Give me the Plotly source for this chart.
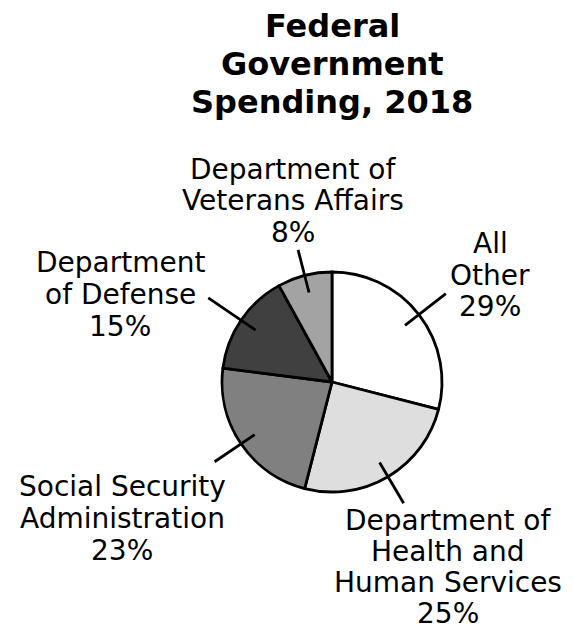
import math
import plotly.graph_objects as go

# ---- data ----
categories = ["All Other", "Department of Health and Human Services",
              "Social Security Administration", "Department of Defense",
              "Department of Veterans Affairs"]
label_lines = [["All", "Other"],
               ["Department of", "Health and", "Human Services"],
               ["Social Security", "Administration"],
               ["Department", "of Defense"],
               ["Department of", "Veterans Affairs"]]
shares = [29, 25, 23, 15, 8]
title_lines = ["Federal", "Government", "Spending, 2018"]

# ---- styles ----
colors = ["#ffffff", "#dedede", "#808080", "#404040", "#a3a3a3"]
W, H = 573, 632
CX, CY, R = 332, 382, 110            # pie centre / radius in pixels
leader_in = [0.84, 0.85, 0.85, 0.84, 0.84]
leader_out = [1.31, 1.28, 1.29, 1.36, 1.24]
label_px = [(490, 275), (448, 567), (122, 518), (120, 294), (293, 201)]
label_gap = [32, 31, 32, 32, 32]
LABEL_SIZE = 28
TITLE_SIZE, TITLE_GAP, TITLE_X, TITLE_Y0 = 32, 38, 332, 26
FONT = "DejaVu Sans, Verdana, sans-serif"


def px(x):
    return x / W


def py(y):
    return 1 - y / H


fig = go.Figure(go.Pie(
    labels=categories, values=shares, sort=False, direction="clockwise",
    rotation=0, textinfo="none", hoverinfo="label+percent",
    marker=dict(colors=colors, line=dict(color="black", width=2.8)),
    domain=dict(x=[px(CX - R), px(CX + R)], y=[py(CY + R), py(CY - R)]),
    showlegend=False,
))

total = sum(shares)
cum = 0
shapes = []
annotations = []


def add_line(text, x, y, size, bold=False):
    annotations.append(dict(
        text=f"<b>{text}</b>" if bold else text, x=px(x), y=py(y),
        xref="paper", yref="paper", xanchor="center", yanchor="middle",
        showarrow=False, align="center", borderpad=0,
        font=dict(family=FONT, size=size, color="black")))


for i, v in enumerate(shares):
    mid = (cum + v / 2) / total * 2 * math.pi
    cum += v
    sx, sy = math.sin(mid), -math.cos(mid)
    x0, y0 = CX + R * leader_in[i] * sx, CY + R * leader_in[i] * sy
    x1, y1 = CX + R * leader_out[i] * sx, CY + R * leader_out[i] * sy
    shapes.append(dict(type="line", xref="paper", yref="paper",
                       x0=px(x0), y0=py(y0), x1=px(x1), y1=py(y1),
                       line=dict(color="black", width=2.8)))
    lines = label_lines[i] + [f"{v}%"]
    lx, ly = label_px[i]
    n = len(lines)
    for k, t in enumerate(lines):
        add_line(t, lx, ly + (k - (n - 1) / 2) * label_gap[i], LABEL_SIZE)

for k, t in enumerate(title_lines):
    add_line(t, TITLE_X, TITLE_Y0 + k * TITLE_GAP, TITLE_SIZE, bold=True)

fig.update_layout(
    width=W, height=H, margin=dict(l=0, r=0, t=0, b=0),
    paper_bgcolor="white", plot_bgcolor="white",
    shapes=shapes, annotations=annotations,
)

fig.write_html("out.html", config={"displayModeBar": False},
               post_script="document.body.style.margin='0';")
